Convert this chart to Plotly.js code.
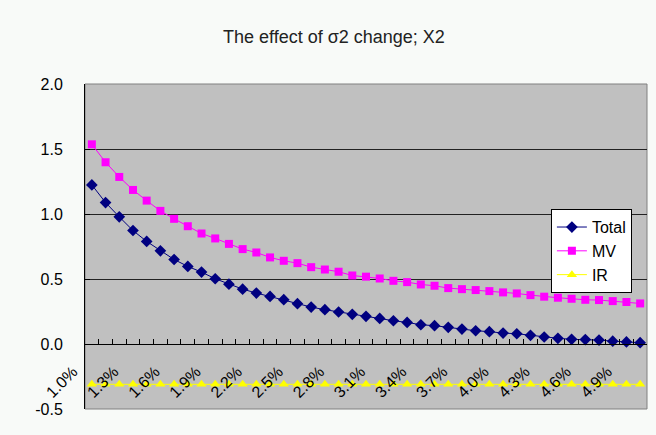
<!DOCTYPE html>
<html>
<head>
<meta charset="utf-8">
<script src="https://cdn.plot.ly/plotly-3.0.1.min.js"></script>
<style>
html,body{margin:0;padding:0;background:#f8faf8;}
#chart{width:656px;height:435px;}
</style>
</head>
<body>
<div id="chart"></div>
<script>
const categories = ["1.0%","1.1%","1.2%","1.3%","1.4%","1.5%","1.6%","1.7%","1.8%","1.9%",
  "2.0%","2.1%","2.2%","2.3%","2.4%","2.5%","2.6%","2.7%","2.8%","2.9%",
  "3.0%","3.1%","3.2%","3.3%","3.4%","3.5%","3.6%","3.7%","3.8%","3.9%",
  "4.0%","4.1%","4.2%","4.3%","4.4%","4.5%","4.6%","4.7%","4.8%","4.9%","5.0%"];

const totalValues = [1.224,1.088,0.978,0.873,0.789,0.717,0.650,0.597,0.553,0.502,
  0.460,0.422,0.392,0.366,0.341,0.310,0.284,0.264,0.246,0.228,
  0.213,0.197,0.179,0.166,0.148,0.141,0.128,0.115,0.102,0.095,
  0.084,0.079,0.067,0.054,0.044,0.036,0.034,0.030,0.022,0.016,0.010];

const mvValues = [1.536,1.398,1.285,1.185,1.103,1.024,0.963,0.906,0.850,0.812,
  0.770,0.730,0.704,0.666,0.640,0.622,0.591,0.573,0.556,0.527,
  0.518,0.504,0.486,0.476,0.458,0.448,0.430,0.422,0.415,0.407,
  0.397,0.389,0.376,0.364,0.356,0.348,0.340,0.338,0.330,0.323,0.312];

const irValues = [-0.31,-0.31,-0.31,-0.31,-0.31,-0.31,-0.31,-0.31,-0.31,-0.31,
  -0.31,-0.31,-0.31,-0.31,-0.31,-0.31,-0.31,-0.31,-0.31,-0.31,
  -0.31,-0.31,-0.31,-0.31,-0.31,-0.31,-0.31,-0.31,-0.31,-0.31,
  -0.31,-0.31,-0.31,-0.31,-0.31,-0.31,-0.31,-0.31,-0.31,-0.31,-0.31];

const seriesNames = ["Total","MV","IR"];
const yTicks = [-0.5,0.0,0.5,1.0,1.5,2.0];
const yTickLabels = ["-0.5","0.0","0.5","1.0","1.5","2.0"];

const FONT = "Liberation Sans, Arial, sans-serif";

const traces = [
  {x:categories, y:totalValues, name:seriesNames[0], type:"scatter", mode:"lines+markers",
   line:{color:"#000080", width:1}, marker:{symbol:"diamond", size:9, color:"#000080"}},
  {x:categories, y:mvValues, name:seriesNames[1], type:"scatter", mode:"lines+markers",
   line:{color:"#ff00ff", width:1}, marker:{symbol:"square", size:8, color:"#ff00ff"}},
  {x:categories, y:irValues, name:seriesNames[2], type:"scatter", mode:"lines+markers",
   line:{color:"#ffff00", width:1}, marker:{symbol:"triangle-up", size:9, color:"#ffff00"}}
];

const layout = {
  width:656, height:435,
  paper_bgcolor:"#f8faf8",
  plot_bgcolor:"#c0c0c0",
  margin:{l:85, r:9, t:84, b:26},
  font:{family:FONT, color:"#000"},
  title:{text:"The effect of σ2 change; X2", font:{family:FONT, size:18, color:"#222"},
         x:0.509, xref:"container", xanchor:"center", y:0.915, yref:"container", yanchor:"middle"},
  xaxis:{type:"category", anchor:"free", position:0.2,
         range:[-0.5, categories.length-0.5],
         showline:true, linecolor:"#000", linewidth:1,
         ticks:"inside", ticklen:5, tickcolor:"#000", tickson:"boundaries",
         dtick:1, ticklabelstep:3, tickangle:-45,
         ticklabelshift:-19, ticklabelstandoff:11,
         tickfont:{family:FONT, size:16, color:"#000"},
         showgrid:false, zeroline:false, fixedrange:true},
  yaxis:{range:[-0.5,2.0], tickmode:"array", tickvals:yTicks, ticktext:yTickLabels,
         showline:true, linecolor:"#000", linewidth:1,
         ticks:"inside", ticklen:5, tickcolor:"#000",
         showgrid:true, gridcolor:"#222", gridwidth:1, zeroline:false,
         tickfont:{family:FONT, size:16, color:"#000"}, ticklabelstandoff:18, fixedrange:true},
  showlegend:true,
  legend:{x:0.829, y:0.615, xanchor:"left", yanchor:"top",
          bgcolor:"#ffffff", bordercolor:"#000", borderwidth:1,
          font:{family:FONT, size:16, color:"#000"}, itemwidth:30, tracegroupgap:0},
  shapes:[{type:"rect", xref:"paper", yref:"paper", x0:0, x1:1, y0:0, y1:1,
           line:{color:"#808080", width:1}, layer:"below"}]
};

Plotly.newPlot("chart", traces, layout, {displayModeBar:false, staticPlot:true});
</script>
</body>
</html>
